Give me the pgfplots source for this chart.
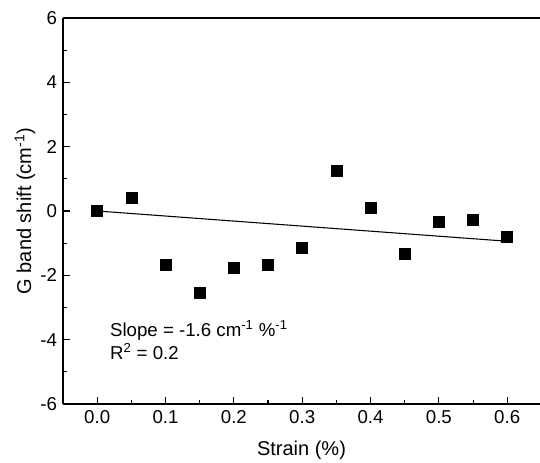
\documentclass[border=0pt]{standalone}
\usepackage{fontspec}
\setmainfont{Liberation Sans}
\usepackage{pgfplots}
\pgfplotsset{compat=1.18}

\begin{document}
\begin{tikzpicture}
\begin{axis}[
  scale only axis,
  width=357.75pt, height=289.5pt,
  xmin=-0.05, xmax=0.648,
  ymin=-6, ymax=6,
  axis x line*=box, axis y line*=left,
  xtick pos=left, ytick pos=left,
  xtick={0,0.1,0.2,0.3,0.4,0.5,0.6},
  ytick={-6,-4,-2,0,2,4,6},
  minor x tick num=1, minor y tick num=1,
  tick align=inside,
  major tick length=5pt, minor tick length=2.8pt,
  every tick/.style={black, line width=0.8pt},
  axis line style={line width=1pt, -},
  /pgf/number format/assume math mode=true,
  tick label style={font=\fontsize{14}{16}\selectfont},
  xticklabel style={/pgf/number format/fixed, /pgf/number format/fixed zerofill,
    /pgf/number format/precision=1, yshift=-1pt},
  yticklabel style={xshift=-1pt},
  xlabel={Strain (\%)},
  ylabel={G band shift (cm\textsuperscript{-1})},
  label style={font=\fontsize{15}{18}\selectfont},
  xlabel style={at={(rel axis cs:0.5,0)}, anchor=center, yshift=-34.5pt},
  ylabel style={at={(rel axis cs:0,0.5)}, anchor=center, yshift=28.5pt},
  clip=false,
]
\addplot[only marks, mark=square*, mark size=4.1pt, color=black]
  coordinates {(0,0) (0.05,0.41) (0.1,-1.67) (0.15,-2.54) (0.2,-1.76) (0.25,-1.67)
    (0.3,-1.14) (0.35,1.25) (0.4,0.11) (0.45,-1.34) (0.5,-0.33) (0.55,-0.27) (0.6,-0.79)};
\addplot[black, line width=0.8pt, mark=none] coordinates {(0,0) (0.6,-0.94)};
\node[anchor=west, font=\fontsize{14}{16}\selectfont, inner sep=0pt] at (axis cs:0.0186,-3.70)
  {Slope = -1.6 cm\textsuperscript{-1} \%\textsuperscript{-1}};
\node[anchor=west, font=\fontsize{14}{16}\selectfont, inner sep=0pt] at (axis cs:0.0186,-4.38)
  {R\textsuperscript{2} = 0.2};
\end{axis}
\pgfresetboundingbox
\path[use as bounding box] (current axis.south west) ++(-47.25pt,-44.25pt) rectangle ++(405pt,347.25pt);
\end{tikzpicture}
\end{document}
